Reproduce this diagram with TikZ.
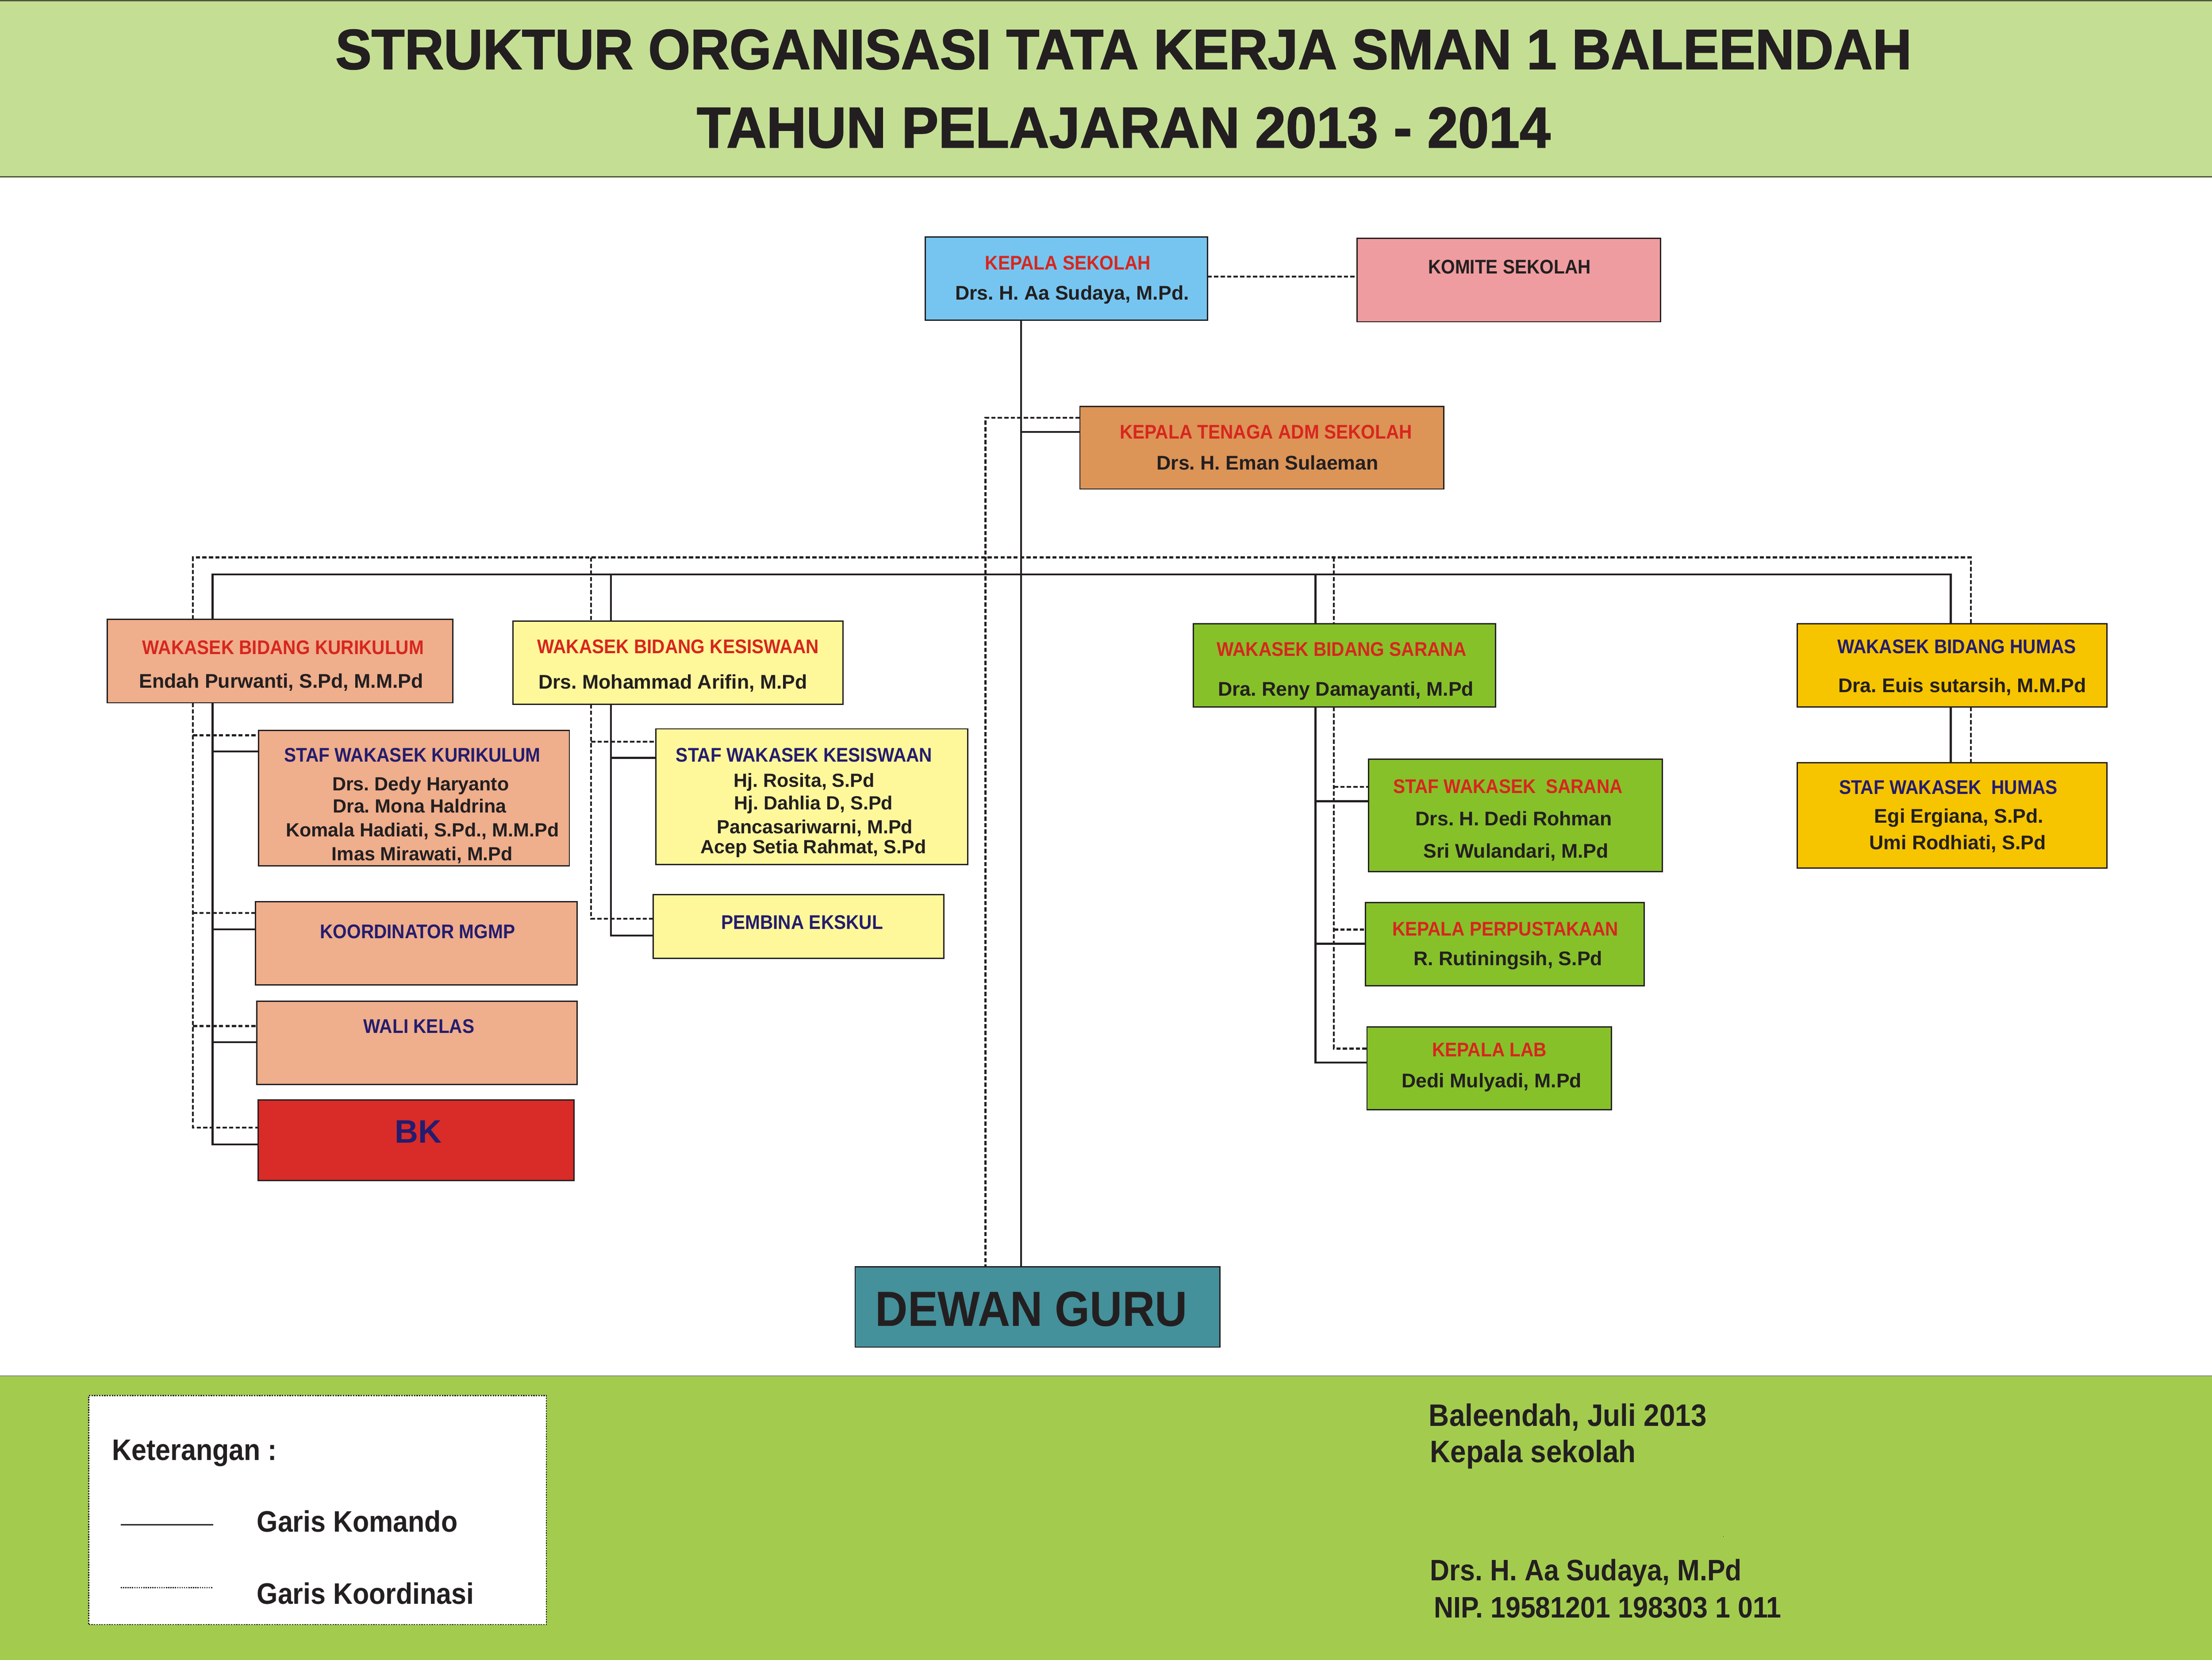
\documentclass[tikz,border=0pt]{standalone}
\usepackage{fontspec}
\usepackage{graphicx}
\setmainfont{Liberation Sans}
\newfontfamily\condf{Liberation Sans}[FakeStretch=0.91]
\newfontfamily\titlef{Liberation Sans}[BoldFeatures={FakeBold=1.6}]
\frenchspacing
\definecolor{bandtop}{HTML}{C4DF94}
\definecolor{bandbot}{HTML}{A3CC4F}
\definecolor{ksblue}{HTML}{76C5F0}
\definecolor{komitepink}{HTML}{EF9CA0}
\definecolor{admorange}{HTML}{DC9457}
\definecolor{salmon}{HTML}{EFAE8C}
\definecolor{lyellow}{HTML}{FFF89B}
\definecolor{sgreen}{HTML}{86C12A}
\definecolor{hgold}{HTML}{F7C400}
\definecolor{bkred}{HTML}{D92B27}
\definecolor{teal}{HTML}{44909B}
\definecolor{tred}{HTML}{D7261E}
\definecolor{tnavy}{HTML}{241C6E}
\definecolor{tblk}{HTML}{231F20}
\tikzset{
  box/.style={draw=tblk, line width=0.9pt, inner sep=0pt, outer sep=0pt},
  cmd/.style={draw=tblk, line width=1.4pt},
  koord/.style={draw=tblk, line width=1.4pt, dash pattern=on 3pt off 1.6pt},
  ttl/.style={font=\condf\bfseries\fontsize{14}{16}\selectfont, inner sep=0pt, anchor=base},
  nm/.style={font=\bfseries\fontsize{14}{16}\selectfont, text=tblk, inner sep=0pt, anchor=base},
  snm/.style={font=\bfseries\fontsize{13.5}{15}\selectfont, text=tblk, inner sep=0pt, anchor=base},
  big/.style={font=\condf\bfseries\fontsize{21}{24}\selectfont, text=tblk, inner sep=0pt, anchor=base west},
}
\begin{document}
\begin{tikzpicture}[x=1pt, y=-1pt]
\useasboundingbox (0,0) rectangle (1568,1176.1);
% bands
\path[fill=bandtop, draw=black!60!bandtop, line width=1pt] (-1,0.5) rectangle (1569,125.3);
\path[fill=bandbot, draw=black!45, line width=0.8pt] (-1,975) rectangle (1569,1177);
% title
\node[inner sep=0pt, anchor=base, text=tblk] (title1) at (796.5,48.9)
  {\resizebox{1117pt}{28pt}{\titlef\bfseries STRUKTUR ORGANISASI TATA KERJA SMAN 1 BALEENDAH}};
\node[inner sep=0pt, anchor=base, text=tblk] (title2) at (796.5,104.5)
  {\resizebox{605pt}{28.5pt}{\titlef\bfseries TAHUN PELAJARAN 2013 - 2014}};

% boxes
\node[box, fill=ksblue, minimum width=200pt, minimum height=59pt] (ks) at (756,197.5) {};
\node[box, fill=komitepink, minimum width=215pt, minimum height=59pt] (komite) at (1069.5,198.5) {};
\node[box, fill=admorange, minimum width=258pt, minimum height=58.5pt] (adm) at (894.5,317.25) {};
\node[box, fill=salmon, minimum width=245pt, minimum height=59pt] (kur) at (198.5,468.5) {};
\node[box, fill=lyellow, minimum width=234pt, minimum height=59pt] (kes) at (480.5,469.5) {};
\node[box, fill=sgreen, minimum width=214pt, minimum height=59pt] (sar) at (953,471.5) {};
\node[box, fill=hgold, minimum width=219.5pt, minimum height=59pt] (hum) at (1383.75,471.5) {};
\node[box, fill=salmon, minimum width=220.3pt, minimum height=96pt] (stafkur) at (293.45,565.5) {};
\node[box, fill=salmon, minimum width=228pt, minimum height=59pt] (mgmp) at (295,668.5) {};
\node[box, fill=salmon, minimum width=227pt, minimum height=59pt] (wali) at (295.5,739) {};
\node[box, fill=bkred, minimum width=224pt, minimum height=57pt] (bk) at (295,808) {};
\node[box, fill=lyellow, minimum width=221pt, minimum height=96.2pt] (stafkes) at (575.5,564.6) {};
\node[box, fill=lyellow, minimum width=206pt, minimum height=45pt] (ekskul) at (566,656.5) {};
\node[box, fill=sgreen, minimum width=208.4pt, minimum height=79.6pt] (stafsar) at (1074.2,577.8) {};
\node[box, fill=sgreen, minimum width=197.5pt, minimum height=58.7pt] (perpus) at (1066.75,669.05) {};
\node[box, fill=sgreen, minimum width=173.4pt, minimum height=58.7pt] (lab) at (1055.7,757.05) {};
\node[box, fill=hgold, minimum width=219.5pt, minimum height=74.4pt] (stafhum) at (1383.75,577.8) {};
\node[box, fill=teal, minimum width=258.5pt, minimum height=57pt] (dewan) at (735.45,926.1) {};

% column / row coordinates
\coordinate (cM) at (723.7,0);  \coordinate (dM) at (698.5,0);
\coordinate (cL) at (150.7,0);  \coordinate (dL) at (136.8,0);
\coordinate (cK) at (433,0);    \coordinate (dK) at (419,0);
\coordinate (cS) at (932.5,0);  \coordinate (dS) at (945.5,0);
\coordinate (cH) at (1382.8,0); \coordinate (dH) at (1397,0);
\coordinate (barS) at (0,407);  \coordinate (barD) at (0,395);
\coordinate (rKomite) at (0,196);
\coordinate (rAdmD) at (0,296); \coordinate (rAdmS) at (0,306);
\coordinate (rSkD) at (0,521);  \coordinate (rSkS) at (0,532.5);
\coordinate (rMgD) at (0,647);  \coordinate (rMgS) at (0,658.5);
\coordinate (rWkD) at (0,727);  \coordinate (rWkS) at (0,738.5);
\coordinate (rBkD) at (0,799);  \coordinate (rBkS) at (0,811);
\coordinate (rSsD) at (0,525.6); \coordinate (rSsS) at (0,537);
\coordinate (rEkD) at (0,651);  \coordinate (rEkS) at (0,663);
\coordinate (rSaD) at (0,557.6); \coordinate (rSaS) at (0,567.7);
\coordinate (rPpD) at (0,658.7); \coordinate (rPpS) at (0,668.7);
\coordinate (rLbD) at (0,743);  \coordinate (rLbS) at (0,753);

% top connectors
\draw[koord] (ks.east |- rKomite) -- (komite.west |- rKomite);
\draw[cmd] (cM |- ks.south) -- (cM |- dewan.north);
\draw[cmd] (cM |- rAdmS) -- (adm.west |- rAdmS);
\draw[koord] (adm.west |- rAdmD) -- (dM |- rAdmD) -- (dM |- dewan.north);
\draw[cmd] (cL |- kur.north) -- (cL |- barS) -- (cH |- barS) -- (cH |- hum.north);
\draw[cmd] (cK |- barS) -- (cK |- kes.north);
\draw[cmd] (cS |- barS) -- (cS |- sar.north);
\draw[koord] (dL |- kur.north) -- (dL |- barD) -- (dH |- barD) -- (dH |- hum.north);
\draw[koord] (dK |- barD) -- (dK |- kes.north);
\draw[koord] (dS |- barD) -- (dS |- sar.north);
% kurikulum branch
\draw[cmd] (cL |- kur.south) -- (cL |- rBkS) -- (bk.west |- rBkS);
\draw[cmd] (cL |- rSkS) -- (stafkur.west |- rSkS);
\draw[cmd] (cL |- rMgS) -- (mgmp.west |- rMgS);
\draw[cmd] (cL |- rWkS) -- (wali.west |- rWkS);
\draw[koord] (dL |- kur.south) -- (dL |- rBkD) -- (bk.west |- rBkD);
\draw[koord] (dL |- rSkD) -- (stafkur.west |- rSkD);
\draw[koord] (dL |- rMgD) -- (mgmp.west |- rMgD);
\draw[koord] (dL |- rWkD) -- (wali.west |- rWkD);
% kesiswaan branch
\draw[cmd] (cK |- kes.south) -- (cK |- rEkS) -- (ekskul.west |- rEkS);
\draw[cmd] (cK |- rSsS) -- (stafkes.west |- rSsS);
\draw[koord] (dK |- kes.south) -- (dK |- rEkD) -- (ekskul.west |- rEkD);
\draw[koord] (dK |- rSsD) -- (stafkes.west |- rSsD);
% sarana branch
\draw[cmd] (cS |- sar.south) -- (cS |- rLbS) -- (lab.west |- rLbS);
\draw[cmd] (cS |- rSaS) -- (stafsar.west |- rSaS);
\draw[cmd] (cS |- rPpS) -- (perpus.west |- rPpS);
\draw[koord] (dS |- sar.south) -- (dS |- rLbD) -- (lab.west |- rLbD);
\draw[koord] (dS |- rSaD) -- (stafsar.west |- rSaD);
\draw[koord] (dS |- rPpD) -- (perpus.west |- rPpD);
% humas branch
\draw[cmd] (cH |- hum.south) -- (cH |- stafhum.north);
\draw[koord] (dH |- hum.south) -- (dH |- stafhum.north);

% texts
\node[ttl, text=tred] (tks) at (757,191) {KEPALA SEKOLAH};
\node[nm] (nks) at (760,212.5) {Drs. H. Aa Sudaya, M.Pd.};
\node[ttl, text=tblk] (tkom) at (1070,194) {KOMITE SEKOLAH};
\node[ttl, text=tred] (tadm) at (897.4,311) {KEPALA TENAGA ADM SEKOLAH};
\node[nm] (nadm) at (898.5,333) {Drs. H. Eman Sulaeman};
\node[ttl, text=tred] (tkur) at (200.7,463.6) {WAKASEK BIDANG KURIKULUM};
\node[nm] (nkur) at (199.3,487.5) {Endah Purwanti, S.Pd, M.M.Pd};
\node[ttl, text=tred] (tkes) at (480.6,463) {WAKASEK BIDANG KESISWAAN};
\node[nm] (nkes) at (477,488) {Drs. Mohammad Arifin, M.Pd};
\node[ttl, text=tred] (tsar) at (951,465) {WAKASEK BIDANG SARANA};
\node[nm] (nsar) at (954,493) {Dra. Reny Damayanti, M.Pd};
\node[ttl, text=tnavy] (thum) at (1387,463) {WAKASEK BIDANG HUMAS};
\node[nm] (nhum) at (1391,490.5) {Dra. Euis sutarsih, M.M.Pd};
\node[ttl, text=tnavy] (tsk) at (292.3,540) {STAF WAKASEK KURIKULUM};
\node[snm] (nsk1) at (298.2,560.3) {Drs. Dedy Haryanto};
\node[snm] (nsk2) at (297.4,575.8) {Dra. Mona Haldrina};
\node[snm] (nsk3) at (299.4,592.8) {Komala Hadiati, S.Pd., M.M.Pd};
\node[snm] (nsk4) at (299.3,609.8) {Imas Mirawati, M.Pd};
\node[ttl, text=tnavy] (tss) at (570,540) {STAF WAKASEK KESISWAAN};
\node[snm] (nss1) at (570,557.8) {Hj. Rosita, S.Pd};
\node[snm] (nss2) at (576.6,573.8) {Hj. Dahlia D, S.Pd};
\node[snm] (nss3) at (577.6,590.8) {Pancasariwarni, M.Pd};
\node[snm] (nss4) at (576.6,604.8) {Acep Setia Rahmat, S.Pd};
\node[ttl, text=tnavy] (tmg) at (296,665) {KOORDINATOR MGMP};
\node[ttl, text=tnavy] (twk) at (297,732) {WALI KELAS};
\node[font=\bfseries\fontsize{23}{26}\selectfont, text=tnavy, inner sep=0pt, anchor=base] (tbk) at (296.6,810) {BK};
\node[ttl, text=tnavy] (tek) at (568.6,658.5) {PEMBINA EKSKUL};
\node[ttl, text=tred] (tsa) at (1069,562) {STAF WAKASEK\ \ SARANA};
\node[nm] (nsa1) at (1073,585) {Drs. H. Dedi Rohman};
\node[nm] (nsa2) at (1074.6,608) {Sri Wulandari, M.Pd};
\node[ttl, text=tred] (tpp) at (1067,663) {KEPALA PERPUSTAKAAN};
\node[nm] (npp) at (1069,684) {R. Rutiningsih, S.Pd};
\node[ttl, text=tred] (tlb) at (1055.8,748.6) {KEPALA LAB};
\node[nm] (nlb) at (1057.4,770.8) {Dedi Mulyadi, M.Pd};
\node[ttl, text=tnavy] (tsh) at (1381,562.6) {STAF WAKASEK\ \ HUMAS};
\node[nm] (nsh1) at (1388.6,583) {Egi Ergiana, S.Pd.};
\node[nm] (nsh2) at (1387.7,602) {Umi Rodhiati, S.Pd};
\node[font=\condf\bfseries\fontsize{35}{40}\selectfont, text=tblk, inner sep=0pt, anchor=base] (tdg) at (731.1,939.7) {DEWAN GURU};

% legend
\node[draw=tblk, line width=0.7pt, dash pattern=on 1pt off 0.8pt, fill=white, inner sep=0pt,
      minimum width=324.4pt, minimum height=162.3pt] (legend) at (225.1,1070.05) {};
\node[big] (tket) at (79.3,1034.6) {Keterangan :};
\coordinate (ls1) at (85.6,1080.5); \coordinate (ls2) at (151,1080.5);
\coordinate (ld1) at (85.6,1125);   \coordinate (ld2) at (151,1125);
\draw[draw=tblk, line width=0.9pt] (ls1) -- (ls2);
\draw[draw=tblk, line width=1.1pt, dash pattern=on 0.8pt off 0.8pt] (ld1) -- (ld2);
\node[big] (tgk) at (181.9,1085.5) {Garis Komando};
\node[big] (tgd) at (181.9,1136.7) {Garis Koordinasi};

% signature
\node[big, font=\condf\bfseries\fontsize{22}{25}\selectfont] (tdate) at (1012.7,1010.7) {Baleendah, Juli 2013};
\node[big, font=\condf\bfseries\fontsize{22}{25}\selectfont] (tkep) at (1013.6,1036.2) {Kepala sekolah};
\node[font=\fontsize{3}{3}\selectfont, text=tblk, inner sep=0pt] (tcomma) at (1221.7,1089) {,};
\node[big] (tsig) at (1013.6,1120) {Drs. H. Aa Sudaya, M.Pd};
\node[big] (tnip) at (1016.4,1146.4) {NIP. 19581201 198303 1 011};
\end{tikzpicture}
\end{document}
